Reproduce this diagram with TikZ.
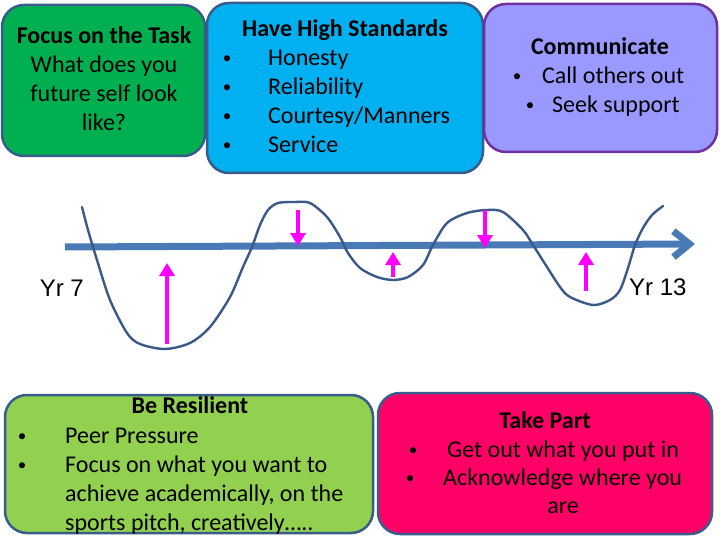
\documentclass[tikz,border=0pt]{standalone}
\usepackage{fontspec}
\setmainfont{Carlito}
\newfontfamily\yrfont{Liberation Sans}
\usepackage{tikz}
\usetikzlibrary{arrows.meta}
\definecolor{taskgreen}{RGB}{0,176,80}
\definecolor{standardsblue}{RGB}{0,176,240}
\definecolor{talklilac}{RGB}{153,153,255}
\definecolor{talkpurple}{RGB}{112,48,160}
\definecolor{resilgreen}{RGB}{146,208,80}
\definecolor{partpink}{RGB}{255,0,102}
\definecolor{panelline}{RGB}{56,93,138}
\definecolor{axisblue}{RGB}{74,122,181}
\definecolor{waveblue}{RGB}{59,89,134}
\definecolor{nudgepink}{RGB}{255,0,255}

\tikzset{
  panel/.style={rounded corners=22pt, line width=2.5pt, draw=panelline},
  txt/.style={inner sep=0pt, font=\fontsize{24}{29}\selectfont},
  line/.style={txt, anchor=base},
  head/.style={line, font=\fontsize{24}{29}\selectfont\bfseries},
  item/.style={txt, anchor=base west},
  dot/.style={inner sep=0pt, anchor=base, font=\fontsize{17}{29}\selectfont},
  yr/.style={inner sep=0pt, font=\fontsize{24}{29}\selectfont\yrfont},
  nudge/.style={-{Triangle[length=13pt,width=15pt]}, line width=4pt, draw=nudgepink, fill=nudgepink},
}

\begin{document}
\begin{tikzpicture}[x=1pt, y=-1pt]
  \useasboundingbox (0,0) rectangle (720,540);

  % Top row
  \draw[panel, fill=taskgreen] (2,5) rectangle (205,156);
  \node[head] (taskhead) at (104,44) {Focus on the Task};
  \node[line] (task1) at (104,73) {What does you};
  \node[line] (task2) at (104,102) {future self look};
  \node[line] (task3) at (104,131) {like?};

  \draw[panel, fill=standardsblue] (207,3) rectangle (483,173);
  \node[head] (stdhead) at (345,37) {Have High Standards};
  \foreach \y/\word [count=\i] in {66/Honesty, 95/Reliability, 124/Courtesy\slash Manners, 153/Service} {
    \node[dot] (stddot\i) at (227,\y-2) {\textbullet};
    \node[item] (std\i) at (268,\y) {\word};
  }

  \draw[panel, draw=talkpurple, fill=talklilac] (484,4) rectangle (717,152);
  \node[head] (talkhead) at (600,55) {Communicate};
  \node[dot] (talkdot1) at (517,82) {\textbullet};
  \node[item] (talk1) at (542,84) {Call others out};
  \node[dot] (talkdot2) at (530,111) {\textbullet};
  \node[item] (talk2) at (552,113) {Seek support};

  % Timeline
  \coordinate (start) at (65,247);
  \coordinate (finish) at (695,244);
  \draw[axisblue, line width=7pt, -{Straight Barb[length=16pt,width=26pt]}] (start) -- (finish);

  \draw[waveblue, line width=2.4pt, line cap=round] plot[smooth, tension=0.5] coordinates {
    (82,207) (88,230) (97,260) (110,300) (127,333) (140,344) (165,349) (190,343)
    (210,327) (230,297) (243,267) (252,247) (260,225) (268,210) (278,203) (295,202)
    (310,203) (327,217) (340,237) (348,253) (360,268) (377,277) (393,280) (408,277)
    (423,265) (433,245) (447,223) (467,213) (487,210) (503,212) (523,230) (533,245)
    (547,267) (560,287) (570,297) (593,305) (610,300) (620,290) (628,268) (635,245)
    (643,228) (652,215) (663,206)};

  \foreach \x/\from/\to in {167/344/263, 298/210/246, 393/277/252, 485/210/248, 586/291/252}
    \draw[nudge] (\x,\from) -- (\x,\to);

  \node[yr, anchor=base east] (yr7) at (84,296) {Yr 7};
  \node[yr, anchor=base west] (yr13) at (629,295) {Yr 13};

  % Bottom row
  \draw[panel, fill=resilgreen] (5,395) rectangle (373,533);
  \node[head] (reshead) at (190,413) {Be Resilient};
  \node[dot] (resdot1) at (22,441) {\textbullet};
  \node[item] (res1) at (65,443) {Peer Pressure};
  \node[dot] (resdot2) at (22,470) {\textbullet};
  \node[item] (res2) at (65,472) {Focus on what you want to};
  \node[item] (res3) at (65,501) {achieve academically, on the};
  \node[item] (res4) at (65,530) {sports pitch, creatively…..};

  \draw[panel, fill=partpink] (378,393) rectangle (712,534);
  \node[head] (parthead) at (545,428) {Take Part};
  \node[dot] (partdot1) at (413,455) {\textbullet};
  \node[item] (part1) at (447,457) {Get out what you put in};
  \node[dot] (partdot2) at (410,483) {\textbullet};
  \node[item] (part2) at (443,485) {Acknowledge where you};
  \node[line] (part3) at (563,513) {are};
\end{tikzpicture}
\end{document}
